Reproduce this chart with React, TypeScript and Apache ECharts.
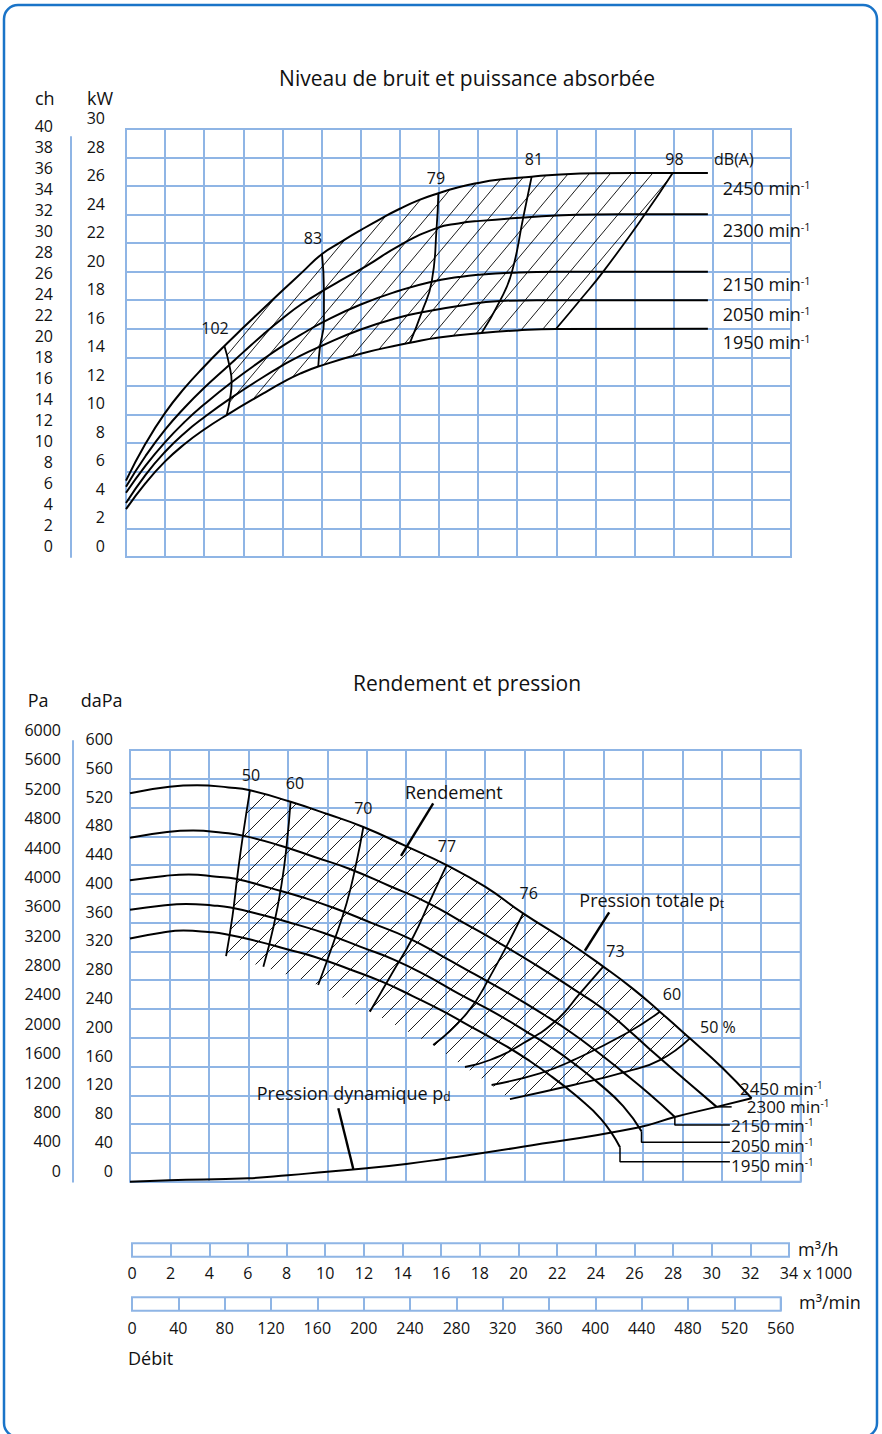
import React, { useEffect, useRef } from 'react';
import * as echarts from 'echarts';

// ================= DATA =================
// Flow axis: x 1000 m³/h. Top chart: absorbed power (kW) per speed.
const power2450 = [[0,5.35],[1,7.95],[2,10.1],[3,11.85],[4,13.35],[5.03,14.79],[6,16.08],[7,17.39],[8,18.68],[9,19.95],[10.02,21.24],[11,22.09],[12,22.91],[13,23.69],[14,24.41],[15,25.03],[15.97,25.5],[17,25.92],[18,26.22],[19,26.44],[20.74,26.66],[22,26.8],[24,26.9],[27.95,26.92],[29.75,26.92]];
const power2300 = [[0,4.93],[1,7.08],[2,8.93],[3,10.48],[4,11.86],[5.28,13.46],[6,14.36],[7,15.58],[8.03,16.75],[9,17.75],[10.12,18.7],[11,19.4],[12.3,20.4],[14,21.85],[15.88,23.05],[17,23.38],[18.1,23.56],[20.31,23.8],[22,23.93],[24,24.0],[26.53,24.02],[29.75,24.02]];
const power2150 = [[0,4.5],[1,6.4],[2,8.05],[3,9.47],[4,10.7],[5.4,12.25],[7,13.85],[8.03,14.82],[8.9,15.55],[10.12,16.5],[12,17.7],[14,18.68],[15.63,19.3],[17,19.62],[18,19.78],[19.72,19.93],[22,20.0],[24.4,20.0],[29.75,20.0]];
const power2050 = [[0,3.78],[1,5.76],[2,7.38],[3,8.7],[4,9.8],[5.32,11.1],[7,12.6],[8.03,13.45],[8.9,14.1],[9.92,14.75],[12,15.95],[14,16.8],[15.12,17.15],[17,17.6],[19.12,17.95],[21,18.0],[23.21,18.0],[29.75,18.0]];
const power1950 = [[0,3.36],[1,5.18],[2,6.7],[3,7.92],[4,8.94],[5.15,9.95],[7,11.45],[8.03,12.25],[8.9,12.85],[9.83,13.35],[12,14.25],[14,14.88],[14.52,15.02],[16,15.38],[18.18,15.7],[20,15.88],[21.98,15.98],[29.75,16.0]];

// Noise level lines dB(A), drawn from top (2450) to bottom (1950)
const noise102 = [[5.03,14.79],[5.28,13.46],[5.4,12.25],[5.32,11.1],[5.15,9.95]];
const noise83 = [[10.02,21.24],[10.12,18.7],[10.12,16.5],[9.92,14.75],[9.83,13.35]];
const noise79 = [[15.97,25.5],[15.88,23.05],[15.63,19.3],[15.12,17.15],[14.52,15.02]];
const noise81 = [[20.74,26.66],[20.31,23.8],[19.72,19.93],[19.12,17.95],[18.18,15.7]];
const noise98 = [[27.95,26.92],[26.53,24.02],[24.4,20.0],[23.21,18.0],[21.98,15.98]];
const noiseNames = ['102', '83', '79', '81', '98'];
const speedNames = ['2450', '2300', '2150', '2050', '1950'];

// Bottom chart: total pressure (daPa) per speed
const pressure2450 = [[0,540],[2,549],[3.4,551],[5,548],[6.08,544],[8.14,528],[10,511],[11.83,493],[14.02,466],[16.05,440],[18,410],[19.93,373],[22,337],[23.99,299],[25.5,268],[26.86,236.3],[28.38,199.3],[30,159],[31.51,116]];
const pressure2300 = [[0,478],[1.88,486],[3.2,488],[4.7,485],[5.73,481],[7.64,467],[9.39,451],[11.11,435],[13.16,411],[15.07,388],[16.9,360],[18.71,332],[20.65,300],[22.52,267],[23.94,241],[25.22,212],[26.64,177],[28.16,141],[29.74,104]];
const pressure2150 = [[0,419],[1.76,425],[2.98,427],[4.39,424],[5.35,421],[7.14,408],[8.78,395],[10.38,380],[12.3,359],[14.09,339],[15.8,314],[17.49,288],[19.31,260],[21.05,231],[22.38,207],[23.57,183],[24.91,154],[26.33,122],[27.62,90]];
const pressure2050 = [[0,378],[1.67,384],[2.84,386],[4.18,384],[5.1,381],[6.81,370],[8.37,358],[9.9,345],[11.73,326],[13.43,308],[15.06,286],[16.68,261],[18.41,236],[20.07,209],[21.34,187],[22.47,165],[23.75,137],[25.0,105],[25.93,70]];
const pressure1950 = [[0,338],[1.59,346],[2.71,349],[3.98,347],[4.86,344],[6.48,334],[7.96,323],[9.42,312],[11.16,295],[12.77,278],[14.33,258],[15.86,237],[17.51,212],[19.09,188],[20.3,167],[21.38,146],[22.59,120],[23.88,87],[24.84,48]];
const dynamicPressure = [[0,0],[2,1.9],[6,4.7],[8,8.9],[10,13.9],[12,18.6],[14,24.6],[15.7,31],[19.9,48.5],[25.7,75],[27.62,90],[29.74,104],[31.51,116]];

// Efficiency lines (%), from the 2450 curve downwards
const eff50L = [[6.08,544],[5.74,484],[5.44,424],[5.19,368],[4.87,313.6]];
const eff60L = [[8.14,528],[7.95,470],[7.69,414.7],[7.28,355],[6.76,298.8]];
const eff70 = [[11.83,493],[11.45,440],[10.98,387],[10.3,331],[9.54,273.4]];
const eff77 = [[16.05,440],[15.2,390],[14.36,340.5],[13.25,288],[12.16,236.3]];
const eff76 = [[19.93,373],[18.25,285],[17.07,234],[15.37,190]];
const eff73 = [[23.99,299],[22.81,261.8],[21.63,224.7],[19.93,192.3],[18.25,169.1],[16.98,159.4]];
const eff60R = [[26.86,236.3],[25.17,206.2],[22.47,169],[20.78,150.7],[18.33,134.4]];
const eff50R = [[28.38,199.3],[26.86,169],[25.17,152.9],[22.47,134.4],[19.26,114.9]];
const effNames = ['50', '60', '70', '77', '76', '73', '60', '50 %'];

// Leaders to speed labels and annotation pointers (data units)
const leader2300 = [[29.74,104],[30.5,104]];
const leader2150 = [[27.62,90],[27.62,78.8],[30.41,78.8]];
const leader2050 = [[25.93,70],[25.93,54.8],[30.41,54.8]];
const leader1950 = [[24.84,48],[24.84,27.8],[30.41,27.8]];
const pointerRendement = [[15.37,525.9],[13.74,452.7]];
const pointerTotale = [[24.29,374.4],[23.06,321]];
const pointerDynamique = [[10.56,102],[11.32,17.7]];

// ================= LAYOUT / STYLE =================
const FONT = '"Open Sans", "Noto Sans", sans-serif';
const INK = '#111111';
const GRID_C = '#8fb5e5';
const BORDER_C = '#1a74c8';
const SMOOTH = 0.5;

const noiseLabelPos = [[215, 328], [313, 238], [436, 178], [534, 159], [674.5, 159]];
const speedLabelTopPos = [[722.7, 188], [722.7, 230], [722.7, 284.3], [722.7, 314], [722.7, 341.7]];
const effLabelPos = [[251, 775], [295, 783.3], [363.3, 808.3], [447, 846], [528.7, 893.3], [615.5, 951], [672, 994.3], [700, 1027.3]];
const speedLabelBotPos = [[740, 1088.3], [746.7, 1106.7], [731, 1125.7], [731, 1145], [731, 1165]];

// ================= HELPERS =================
function bezierPoints(pts: number[][], smooth: number, steps = 12): number[][] {
  const out: number[][] = [];
  const n = pts.length;
  if (!n) return out;
  out.push([pts[0][0], pts[0][1]]);
  if (smooth <= 0 || n < 3) {
    for (let i = 1; i < n; i++) out.push([pts[i][0], pts[i][1]]);
    return out;
  }
  let cp0x = pts[0][0], cp0y = pts[0][1];
  for (let i = 1; i < n; i++) {
    const x = pts[i][0], y = pts[i][1];
    const px = pts[i - 1][0], py = pts[i - 1][1];
    let cp1x = x, cp1y = y, ncx = x, ncy = y;
    if (i < n - 1) {
      const nx = pts[i + 1][0], ny = pts[i + 1][1];
      let vx = nx - px, vy = ny - py;
      const l0 = Math.hypot(x - px, y - py) || 1e-6;
      const l1 = Math.hypot(nx - x, ny - y) || 1e-6;
      const r = l1 / (l0 + l1);
      ncx = x + vx * smooth * r; ncy = y + vy * smooth * r;
      ncx = Math.min(ncx, Math.max(nx, x)); ncy = Math.min(ncy, Math.max(ny, y));
      ncx = Math.max(ncx, Math.min(nx, x)); ncy = Math.max(ncy, Math.min(ny, y));
      vx = ncx - x; vy = ncy - y;
      cp1x = x - vx * l0 / l1; cp1y = y - vy * l0 / l1;
      cp1x = Math.min(cp1x, Math.max(px, x)); cp1y = Math.min(cp1y, Math.max(py, y));
      cp1x = Math.max(cp1x, Math.min(px, x)); cp1y = Math.max(cp1y, Math.min(py, y));
      vx = x - cp1x; vy = y - cp1y;
      ncx = x + vx * l1 / l0; ncy = y + vy * l1 / l0;
    }
    for (let s = 1; s <= steps; s++) {
      const t = s / steps, u = 1 - t;
      out.push([
        u * u * u * px + 3 * u * u * t * cp0x + 3 * u * t * t * cp1x + t * t * t * x,
        u * u * u * py + 3 * u * u * t * cp0y + 3 * u * t * t * cp1y + t * t * t * y,
      ]);
    }
    cp0x = ncx; cp0y = ncy;
  }
  return out;
}

function hatchGroup(poly: number[][], angleDeg: number, hSpacing: number) {
  const a = (angleDeg * Math.PI) / 180;
  const sn = Math.sin(a), cs = Math.cos(a);
  const gap = hSpacing * sn;
  const cv = poly.map((p) => p[0] * sn + p[1] * cs);
  const cmin = Math.min(...cv), cmax = Math.max(...cv);
  const children: any[] = [];
  for (let c = Math.ceil(cmin / gap) * gap; c <= cmax; c += gap) {
    const hits: number[][] = [];
    for (let i = 0; i < poly.length; i++) {
      const j = (i + 1) % poly.length;
      const ci = cv[i], cj = cv[j];
      if ((ci <= c && cj > c) || (cj <= c && ci > c)) {
        const t = (c - ci) / (cj - ci);
        hits.push([poly[i][0] + t * (poly[j][0] - poly[i][0]), poly[i][1] + t * (poly[j][1] - poly[i][1])]);
      }
    }
    hits.sort((p, q) => (p[0] * cs - p[1] * sn) - (q[0] * cs - q[1] * sn));
    for (let k = 0; k + 1 < hits.length; k += 2) {
      children.push({
        type: 'line',
        shape: { x1: hits[k][0], y1: hits[k][1], x2: hits[k + 1][0], y2: hits[k + 1][1] },
        style: { stroke: '#000', lineWidth: 0.9 },
        silent: true,
      });
    }
  }
  return { type: 'group', children };
}

function lineSeries(data: number[][], xi: number, width = 2, smooth: number = SMOOTH) {
  return {
    type: 'line', data, xAxisIndex: xi, yAxisIndex: xi, smooth, symbol: 'none', showSymbol: false,
    lineStyle: { color: '#000', width }, silent: true, z: 4, clip: false, animation: false,
  };
}

function label(text: string, x: number, y: number, size: number, align: string = 'left') {
  return {
    type: 'text', x, y, silent: true, z: 20,
    style: { text, fontSize: size, fontFamily: FONT, fill: INK, align, verticalAlign: 'middle', textAlign: align, textVerticalAlign: 'middle' },
  };
}

function supLabel(main: string, sup: string, x: number, y: number, size: number, supSize: number, pos: string) {
  return {
    type: 'text', x, y, silent: true, z: 20,
    style: {
      text: `{m|${main}}{s|${sup}}`, align: 'left', verticalAlign: 'middle', textAlign: 'left', textVerticalAlign: 'middle',
      rich: {
        m: { fontSize: size, fontFamily: FONT, fill: INK, color: INK, lineHeight: size },
        s: { fontSize: supSize, fontFamily: FONT, fill: INK, color: INK, verticalAlign: pos, lineHeight: supSize + 1 },
      },
    },
  };
}

function buildOption(): any {
  const split = { show: true, lineStyle: { color: GRID_C, width: 2 } };
  const plain = (v: number) => String(v);
  const tick = { fontSize: 16, color: INK, fontFamily: FONT, formatter: plain };
  const yTick = { ...tick, verticalAlign: 'bottom', padding: [0, 0, 3, 0] };
  const base = { type: 'value', axisLine: { show: false }, axisTick: { show: false }, axisLabel: { show: false }, splitLine: { show: false } };
  const gridBase = { containLabel: false, outerBoundsMode: 'none' };
  const gridBox = { show: true, borderColor: GRID_C, borderWidth: 2, backgroundColor: 'transparent' };

  const topHatch = {
    type: 'custom', coordinateSystem: 'cartesian2d', xAxisIndex: 0, yAxisIndex: 0, data: [[0, 0]], silent: true, z: 3, clip: false,
    renderItem: (_p: any, api: any) => {
      const px = (arr: number[][]) => arr.map((p) => api.coord(p) as number[]);
      const topC = bezierPoints(px(power2450), SMOOTH);
      const botC = bezierPoints(px(power1950), SMOOTH);
      const left = bezierPoints(px(noise102), SMOOTH);
      const right = bezierPoints(px(noise98), SMOOTH);
      const xTL = left[0][0], xTR = right[0][0];
      const xBL = left[left.length - 1][0], xBR = right[right.length - 1][0];
      const topPart = topC.filter((p) => p[0] > xTL && p[0] < xTR);
      const botPart = botC.filter((p) => p[0] > xBL && p[0] < xBR).reverse();
      const poly = [...topPart, ...right, ...botPart, ...left.slice().reverse()];
      return hatchGroup(poly, 50, 21);
    },
  };

  const botHatch = {
    type: 'custom', coordinateSystem: 'cartesian2d', xAxisIndex: 2, yAxisIndex: 2, data: [[0, 0]], silent: true, z: 3, clip: false,
    renderItem: (_p: any, api: any) => {
      const px = (arr: number[][]) => arr.map((p) => api.coord(p) as number[]);
      const topC = bezierPoints(px(pressure2450), SMOOTH);
      const left = bezierPoints(px(eff50L), SMOOTH);
      const right = bezierPoints(px(eff50R), SMOOTH);
      const xTL = left[0][0], xTR = right[0][0];
      const topPart = topC.filter((p) => p[0] > xTL && p[0] < xTR);
      const ends = [eff60R, eff73, eff76, eff77, eff70, eff60L].map((l) => api.coord(l[l.length - 1]) as number[]);
      const poly = [...topPart, ...right, ...ends, ...left.slice().reverse()];
      return hatchGroup(poly, 45, 20);
    },
  };

  const series: any[] = [
    topHatch,
    ...[power2450, power2300, power2150, power2050, power1950].map((d) => lineSeries(d, 0, 2)),
    ...[noise102, noise83, noise79, noise81, noise98].map((d) => lineSeries(d, 0, 1.8)),
    botHatch,
    ...[pressure2450, pressure2300, pressure2150, pressure2050, pressure1950].map((d) => lineSeries(d, 2, 2)),
    lineSeries(dynamicPressure, 2, 2),
    ...[eff50L, eff60L, eff70, eff77, eff76, eff73, eff60R, eff50R].map((d) => lineSeries(d, 2, 1.8)),
    ...[leader2300, leader2150, leader2050, leader1950].map((d) => lineSeries(d, 2, 1.5, 0)),
    ...[pointerRendement, pointerTotale, pointerDynamique].map((d) => lineSeries(d, 2, 2.4, 0)),
  ];

  const graphics: any[] = [
    { type: 'rect', silent: true, z: 30, shape: { x: 4, y: 5, width: 873, height: 1432, r: 14 }, style: { fill: 'none', stroke: BORDER_C, lineWidth: 2.5 } },
    label('Niveau de bruit et puissance absorbée', 467, 78, 21, 'center'),
    label('ch', 35, 98, 18),
    label('kW', 87, 98, 18),
    ...noiseNames.map((n, i) => label(n, noiseLabelPos[i][0], noiseLabelPos[i][1], 16, 'center')),
    label('dB(A)', 714, 159, 16),
    ...speedNames.map((s, i) => supLabel(`${s} min`, '-1', speedLabelTopPos[i][0], speedLabelTopPos[i][1], 18, 11, 'top')),
    label('Rendement et pression', 467, 683, 21, 'center'),
    label('Pa', 27.7, 700, 18),
    label('daPa', 80.7, 700, 18),
    ...effNames.map((n, i) => label(n, effLabelPos[i][0], effLabelPos[i][1], 16, i === effNames.length - 1 ? 'left' : 'center')),
    label('Rendement', 405, 791.7, 18),
    supLabel('Pression totale p', 't', 579.3, 900, 18, 12, 'bottom'),
    supLabel('Pression dynamique p', 'd', 256.7, 1093, 18, 12, 'bottom'),
    ...speedNames.map((s, i) => supLabel(`${s} min`, '-1', speedLabelBotPos[i][0], speedLabelBotPos[i][1], 17, 10, 'top')),
    label('m³/h', 798, 1249, 18),
    label('x 1000', 803, 1273, 16),
    label('m³/min', 799, 1302, 18),
    label('Débit', 128, 1358, 18),
  ];

  return {
    animation: false,
    backgroundColor: '#ffffff',
    textStyle: { fontFamily: FONT },
    grid: [
      { ...gridBase, ...gridBox, left: 126, top: 129, width: 665, height: 428 },
      { ...gridBase, left: 71, top: 137, width: 1, height: 420 },
      { ...gridBase, ...gridBox, left: 130, top: 750, width: 670.7, height: 431.7 },
      { ...gridBase, left: 73, top: 741, width: 1, height: 440.7 },
      { ...gridBase, ...gridBox, left: 132, top: 1243.3, width: 657, height: 13.4 },
      { ...gridBase, ...gridBox, left: 132, top: 1297.3, width: 648.7, height: 13.4 },
    ],
    xAxis: [
      { ...base, gridIndex: 0, min: 0, max: 34, interval: 2, splitLine: split },
      { ...base, gridIndex: 1, min: 0, max: 1, show: false },
      { ...base, gridIndex: 2, min: 0, max: 34, interval: 2, splitLine: split },
      { ...base, gridIndex: 3, min: 0, max: 1, show: false },
      { ...base, gridIndex: 4, min: 0, max: 34, interval: 2, splitLine: split, axisLabel: { show: true, margin: 8, ...tick } },
      { ...base, gridIndex: 5, min: 0, max: 560, interval: 40, splitLine: split, axisLabel: { show: true, margin: 9, ...tick } },
    ],
    yAxis: [
      { ...base, gridIndex: 0, min: 0, max: 30, interval: 2, splitLine: split, axisLabel: { show: true, margin: 21, ...yTick } },
      { ...base, gridIndex: 1, min: 0, max: 40, interval: 2, axisLine: { show: true, lineStyle: { color: GRID_C, width: 2 } }, axisLabel: { show: true, margin: 18, ...yTick } },
      { ...base, gridIndex: 2, min: 0, max: 600, interval: 40, splitLine: split, axisLabel: { show: true, margin: 17, ...yTick } },
      { ...base, gridIndex: 3, min: 0, max: 6000, interval: 400, axisLine: { show: true, lineStyle: { color: GRID_C, width: 2 } }, axisLabel: { show: true, margin: 12, ...yTick } },
      { ...base, gridIndex: 4, min: 0, max: 1, show: false },
      { ...base, gridIndex: 5, min: 0, max: 1, show: false },
    ],
    series,
    graphic: { elements: graphics },
  };
}

export default function App() {
  const ref = useRef<HTMLDivElement>(null);
  useEffect(() => {
    if (!ref.current) return;
    const chart = echarts.init(ref.current, undefined, { renderer: 'svg' });
    chart.setOption(buildOption());
    return () => chart.dispose();
  }, []);
  return (
    <div
      ref={ref}
      style={{ position: 'fixed', left: 0, top: 0, width: 882, height: 1434, background: '#ffffff' }}
    />
  );
}
